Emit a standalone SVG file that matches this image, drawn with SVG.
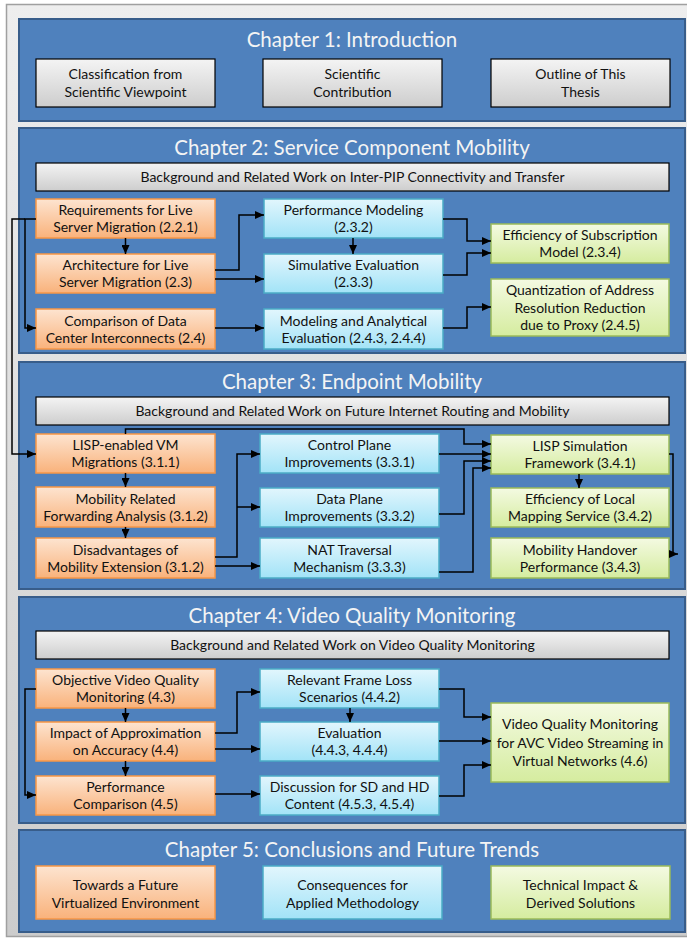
<svg xmlns="http://www.w3.org/2000/svg" width="687" height="941" viewBox="0 0 687 941">
  <defs>
    <style>
      .frame { fill: url(#gFrame); stroke: #a0a0a0; stroke-width: 1.5; }
      .panel { fill: #4f81bd; stroke: #385d8a; stroke-width: 2; }
      .title { font-family: Lato, "Liberation Sans", sans-serif; font-size: 20.5px; fill: #f4f4f4; text-anchor: middle; }
      .t { font-family: Lato, "Liberation Sans", sans-serif; font-size: 14px; fill: #111; text-anchor: middle; }
      .gray { fill: url(#gGray); stroke: #000; stroke-width: 1.2; }
      .org { fill: url(#gOrg); stroke: #f79646; stroke-width: 1.5; }
      .cyan { fill: url(#gCyan); stroke: #4bacc6; stroke-width: 1.5; }
      .grn { fill: url(#gGrn); stroke: #9bbb59; stroke-width: 1.5; }
      .c { fill: none; stroke: #000; stroke-width: 1.5; marker-end: url(#arrow); }
      .cn { fill: none; stroke: #000; stroke-width: 1.5; }
    </style>
    <linearGradient id="gFrame" x1="0" y1="0" x2="0" y2="1">
      <stop offset="0" stop-color="#eeeeee"/>
      <stop offset="1" stop-color="#cccccc"/>
    </linearGradient>
    <linearGradient id="gGray" x1="0" y1="0" x2="0" y2="1">
      <stop offset="0" stop-color="#f4f4f4"/>
      <stop offset="1" stop-color="#cdcdcd"/>
    </linearGradient>
    <linearGradient id="gOrg" x1="0" y1="0" x2="0" y2="1">
      <stop offset="0" stop-color="#fde4d0"/>
      <stop offset="1" stop-color="#f9b27b"/>
    </linearGradient>
    <linearGradient id="gCyan" x1="0" y1="0" x2="0" y2="1">
      <stop offset="0" stop-color="#e2f6fd"/>
      <stop offset="1" stop-color="#a2e3f7"/>
    </linearGradient>
    <linearGradient id="gGrn" x1="0" y1="0" x2="0" y2="1">
      <stop offset="0" stop-color="#f4fae2"/>
      <stop offset="1" stop-color="#d5ec9f"/>
    </linearGradient>
    <marker id="arrow" markerUnits="userSpaceOnUse" markerWidth="9" markerHeight="8" refX="9" refY="4" orient="auto">
      <path d="M0,0 L9,4 L0,8 z" fill="#000"/>
    </marker>
  </defs>

  <!-- outer frame -->
  <rect class="frame" x="6.5" y="4.5" width="690" height="932"/>

  <!-- Chapter 1 -->
  <g id="chapter1">
    <rect class="panel" x="19" y="19" width="666" height="102"/>
    <text class="title" x="352" y="47">Chapter 1: Introduction</text>
    <g id="ch1-classification">
      <rect class="gray" x="36" y="59" width="179" height="48"/>
      <text class="t" x="125.5" y="79">Classification from</text>
      <text class="t" x="125.5" y="97">Scientific Viewpoint</text>
    </g>
    <g id="ch1-contribution">
      <rect class="gray" x="263" y="59" width="179" height="48"/>
      <text class="t" x="352.5" y="79">Scientific</text>
      <text class="t" x="352.5" y="97">Contribution</text>
    </g>
    <g id="ch1-outline">
      <rect class="gray" x="491" y="59" width="179" height="48"/>
      <text class="t" x="580.5" y="79">Outline of This</text>
      <text class="t" x="580.5" y="97">Thesis</text>
    </g>
  </g>

  <!-- Chapter 2 -->
  <g id="chapter2">
    <rect class="panel" x="19" y="128" width="666" height="225"/>
    <text class="title" x="352" y="155">Chapter 2: Service Component Mobility</text>
    <g id="ch2-background">
      <rect class="gray" x="36" y="163" width="633" height="28"/>
      <text class="t" x="352.5" y="182">Background and Related Work on Inter-PIP Connectivity and Transfer</text>
    </g>
    <g id="ch2-requirements">
      <rect class="org" x="36" y="199" width="179" height="39"/>
      <text class="t" x="125.5" y="215">Requirements for Live</text>
      <text class="t" x="125.5" y="232">Server Migration (2.2.1)</text>
    </g>
    <g id="ch2-architecture">
      <rect class="org" x="36" y="254" width="179" height="39"/>
      <text class="t" x="125.5" y="270">Architecture for Live</text>
      <text class="t" x="125.5" y="287">Server Migration (2.3)</text>
    </g>
    <g id="ch2-comparison">
      <rect class="org" x="36" y="309" width="179" height="40"/>
      <text class="t" x="125.5" y="325.5">Comparison of Data</text>
      <text class="t" x="125.5" y="342.5">Center Interconnects (2.4)</text>
    </g>
    <g id="ch2-perf-modeling">
      <rect class="cyan" x="264" y="199" width="179" height="39"/>
      <text class="t" x="353.5" y="215">Performance Modeling</text>
      <text class="t" x="353.5" y="232">(2.3.2)</text>
    </g>
    <g id="ch2-simulative">
      <rect class="cyan" x="264" y="254" width="179" height="39"/>
      <text class="t" x="353.5" y="270">Simulative Evaluation</text>
      <text class="t" x="353.5" y="287">(2.3.3)</text>
    </g>
    <g id="ch2-analytical">
      <rect class="cyan" x="264" y="309" width="179" height="40"/>
      <text class="t" x="353.5" y="325.5">Modeling and Analytical</text>
      <text class="t" x="353.5" y="342.5">Evaluation (2.4.3, 2.4.4)</text>
    </g>
    <g id="ch2-subscription">
      <rect class="grn" x="491" y="224" width="178" height="39"/>
      <text class="t" x="580" y="240">Efficiency of Subscription</text>
      <text class="t" x="580" y="257">Model (2.3.4)</text>
    </g>
    <g id="ch2-quantization">
      <rect class="grn" x="491" y="279" width="178" height="57"/>
      <text class="t" x="580" y="295">Quantization of Address</text>
      <text class="t" x="580" y="312.5">Resolution Reduction</text>
      <text class="t" x="580" y="330">due to Proxy (2.4.5)</text>
    </g>
  </g>

  <!-- Chapter 3 -->
  <g id="chapter3">
    <rect class="panel" x="19" y="362" width="666" height="227"/>
    <text class="title" x="352" y="389">Chapter 3: Endpoint Mobility</text>
    <g id="ch3-background">
      <rect class="gray" x="36" y="397" width="633" height="28"/>
      <text class="t" x="352.5" y="416">Background and Related Work on Future Internet Routing and Mobility</text>
    </g>
    <g id="ch3-lisp-vm">
      <rect class="org" x="36" y="434" width="179" height="39"/>
      <text class="t" x="125.5" y="450">LISP-enabled VM</text>
      <text class="t" x="125.5" y="467">Migrations (3.1.1)</text>
    </g>
    <g id="ch3-forwarding">
      <rect class="org" x="36" y="487" width="179" height="40"/>
      <text class="t" x="125.5" y="503.5">Mobility Related</text>
      <text class="t" x="125.5" y="520.5">Forwarding Analysis (3.1.2)</text>
    </g>
    <g id="ch3-disadvantages">
      <rect class="org" x="36" y="538" width="179" height="40"/>
      <text class="t" x="125.5" y="554.5">Disadvantages of</text>
      <text class="t" x="125.5" y="571.5">Mobility Extension (3.1.2)</text>
    </g>
    <g id="ch3-control-plane">
      <rect class="cyan" x="260" y="434" width="179" height="39"/>
      <text class="t" x="349.5" y="450">Control Plane</text>
      <text class="t" x="349.5" y="467">Improvements (3.3.1)</text>
    </g>
    <g id="ch3-data-plane">
      <rect class="cyan" x="260" y="488" width="179" height="39"/>
      <text class="t" x="349.5" y="504">Data Plane</text>
      <text class="t" x="349.5" y="521">Improvements (3.3.2)</text>
    </g>
    <g id="ch3-nat">
      <rect class="cyan" x="260" y="538" width="179" height="40"/>
      <text class="t" x="349.5" y="554.5">NAT Traversal</text>
      <text class="t" x="349.5" y="571.5">Mechanism (3.3.3)</text>
    </g>
    <g id="ch3-lisp-sim">
      <rect class="grn" x="491" y="435" width="178" height="39"/>
      <text class="t" x="580" y="451">LISP Simulation</text>
      <text class="t" x="580" y="468">Framework (3.4.1)</text>
    </g>
    <g id="ch3-local-mapping">
      <rect class="grn" x="491" y="488" width="178" height="39"/>
      <text class="t" x="580" y="504">Efficiency of Local</text>
      <text class="t" x="580" y="521">Mapping Service (3.4.2)</text>
    </g>
    <g id="ch3-handover">
      <rect class="grn" x="491" y="538" width="178" height="40"/>
      <text class="t" x="580" y="554.5">Mobility Handover</text>
      <text class="t" x="580" y="571.5">Performance (3.4.3)</text>
    </g>
  </g>

  <!-- Chapter 4 -->
  <g id="chapter4">
    <rect class="panel" x="19" y="597" width="666" height="226"/>
    <text class="title" x="352" y="623">Chapter 4: Video Quality Monitoring</text>
    <g id="ch4-background">
      <rect class="gray" x="36" y="631" width="633" height="28"/>
      <text class="t" x="352.5" y="650">Background and Related Work on Video Quality Monitoring</text>
    </g>
    <g id="ch4-objective">
      <rect class="org" x="36" y="669" width="179" height="39"/>
      <text class="t" x="125.5" y="685">Objective Video Quality</text>
      <text class="t" x="125.5" y="702">Monitoring (4.3)</text>
    </g>
    <g id="ch4-impact">
      <rect class="org" x="36" y="722" width="179" height="39"/>
      <text class="t" x="125.5" y="738">Impact of Approximation</text>
      <text class="t" x="125.5" y="755">on Accuracy (4.4)</text>
    </g>
    <g id="ch4-performance">
      <rect class="org" x="36" y="776" width="179" height="39"/>
      <text class="t" x="125.5" y="792">Performance</text>
      <text class="t" x="125.5" y="809">Comparison (4.5)</text>
    </g>
    <g id="ch4-frame-loss">
      <rect class="cyan" x="260" y="669" width="179" height="39"/>
      <text class="t" x="349.5" y="685">Relevant Frame Loss</text>
      <text class="t" x="349.5" y="702">Scenarios (4.4.2)</text>
    </g>
    <g id="ch4-evaluation">
      <rect class="cyan" x="260" y="722" width="179" height="39"/>
      <text class="t" x="349.5" y="738">Evaluation</text>
      <text class="t" x="349.5" y="755">(4.4.3, 4.4.4)</text>
    </g>
    <g id="ch4-discussion">
      <rect class="cyan" x="260" y="776" width="179" height="39"/>
      <text class="t" x="349.5" y="792">Discussion for SD and HD</text>
      <text class="t" x="349.5" y="809">Content (4.5.3, 4.5.4)</text>
    </g>
    <g id="ch4-vqm">
      <rect class="grn" x="491" y="703" width="178" height="79"/>
      <text class="t" x="580" y="729">Video Quality Monitoring</text>
      <text class="t" x="580" y="747.5">for AVC Video Streaming in</text>
      <text class="t" x="580" y="766">Virtual Networks (4.6)</text>
    </g>
  </g>

  <!-- Chapter 5 -->
  <g id="chapter5">
    <rect class="panel" x="19" y="830" width="666" height="102"/>
    <text class="title" x="352" y="857">Chapter 5: Conclusions and Future Trends</text>
    <g id="ch5-environment">
      <rect class="org" x="36" y="866" width="179" height="53"/>
      <text class="t" x="125.5" y="889.5">Towards a Future</text>
      <text class="t" x="125.5" y="907.5">Virtualized Environment</text>
    </g>
    <g id="ch5-methodology">
      <rect class="cyan" x="263" y="866" width="179" height="53"/>
      <text class="t" x="352.5" y="889.5">Consequences for</text>
      <text class="t" x="352.5" y="907.5">Applied Methodology</text>
    </g>
    <g id="ch5-impact">
      <rect class="grn" x="491" y="866" width="179" height="53"/>
      <text class="t" x="580.5" y="889.5">Technical Impact &amp;</text>
      <text class="t" x="580.5" y="907.5">Derived Solutions</text>
    </g>
  </g>

  <!-- connectors -->
  <g id="connectors">
    <!-- chapter 2 -->
    <path class="c" d="M125.5,238 V254"/>
    <path class="c" d="M215,270 H239 V215 H264"/>
    <path class="c" d="M215,279 H264"/>
    <path class="c" d="M215,328 H264"/>
    <path class="c" d="M353,238 V254"/>
    <path class="c" d="M443,219 H467 V241 H491"/>
    <path class="c" d="M443,275 H467 V253 H491"/>
    <path class="c" d="M443,328 H467 V307 H491"/>
    <path class="c" d="M36,219 H25 V328 H36"/>
    <path class="c" d="M25,219 H12 V454 H36"/>
    <!-- chapter 3 -->
    <path class="c" d="M125.5,473 V487"/>
    <path class="c" d="M125.5,527 V538"/>
    <path class="c" d="M125.5,434 V429 H464 V444 H491"/>
    <path class="c" d="M439,454 H491"/>
    <path class="c" d="M439,514 H464 V461 H491"/>
    <path class="c" d="M439,572 H473 V468 H491"/>
    <path class="c" d="M215,557 H237 V454 H260"/>
    <path class="c" d="M237,507 H260"/>
    <path class="c" d="M215,566 H260"/>
    <path class="c" d="M579,474 V488"/>
    <path class="c" d="M669,454 H673 V554 H678"/>
    <!-- chapter 4 -->
    <path class="c" d="M125.5,708 V722"/>
    <path class="c" d="M125.5,761 V776"/>
    <path class="c" d="M36,689 H25 V795 H36"/>
    <path class="c" d="M215,733 H237 V692 H260"/>
    <path class="c" d="M215,749 H260"/>
    <path class="c" d="M215,794 H260"/>
    <path class="c" d="M350,708 V722"/>
    <path class="c" d="M439,689 H464 V717 H491"/>
    <path class="c" d="M439,741 H491"/>
    <path class="c" d="M439,796 H464 V765 H491"/>
  </g>
</svg>
